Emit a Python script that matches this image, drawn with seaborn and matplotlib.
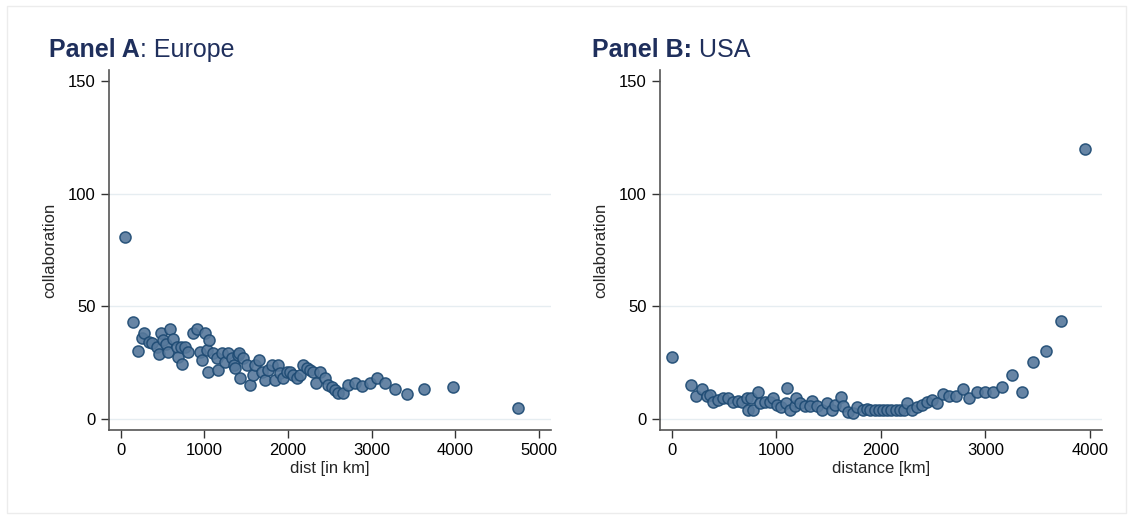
import matplotlib
matplotlib.use("Agg")
import matplotlib.pyplot as plt
from matplotlib.patches import Rectangle
import seaborn as sns

# Panel A: Europe (distance in km, collaboration)
eu_dist = [51, 147, 207, 255, 278, 338, 374, 434, 458, 482, 505, 541, 565, 589,
           625, 673, 685, 733, 721, 768, 804, 864, 912, 948, 972, 1007, 1031,
           1055, 1043, 1103, 1151, 1163, 1211, 1247, 1282, 1330, 1354, 1402,
           1426, 1414, 1462, 1366, 1509, 1545, 1581, 1605, 1653, 1689, 1724,
           1760, 1808, 1844, 1880, 1904, 1940, 1988, 2024, 2060, 2108, 2144,
           2180, 2228, 2264, 2300, 2334, 2382, 2441, 2477, 2525, 2561, 2597,
           2657, 2717, 2800, 2884, 2980, 3063, 3159, 3278, 3421, 3624, 3971,
           4748]
eu_collab = [80.8, 43.1, 30.2, 36.0, 38.2, 34.2, 33.7, 32.0, 28.9, 38.2, 35.1,
             33.3, 29.7, 40.0, 35.5, 32.0, 27.5, 24.4, 32.0, 32.0, 29.7, 38.2,
             40.0, 29.7, 26.2, 38.2, 30.6, 35.1, 20.9, 29.3, 27.1, 21.7, 29.3,
             25.3, 29.3, 27.1, 24.0, 28.4, 18.2, 29.3, 27.1, 22.6, 24.0, 15.1,
             19.5, 24.0, 26.2, 20.9, 17.3, 21.7, 24.0, 17.3, 24.0, 20.4, 18.2,
             20.9, 20.9, 19.5, 18.2, 19.5, 24.0, 22.6, 21.7, 20.9, 16.0, 20.9,
             18.2, 15.1, 14.2, 12.9, 11.5, 11.5, 15.1, 16.0, 14.6, 16.0, 18.2,
             16.0, 13.3, 11.1, 13.3, 14.2, 4.9]

# Panel B: USA
us_dist = [0, 180, 230, 290, 335, 365, 395, 440, 490, 540, 585, 630, 670, 720,
           730, 755, 775, 825, 845, 890, 940, 970, 1010, 1040, 1100, 1090,
           1130, 1180, 1190, 1225, 1275, 1340, 1320, 1390, 1440, 1480, 1530,
           1560, 1615, 1640, 1685, 1730, 1770, 1830, 1870, 1900, 1940, 1980,
           2020, 2060, 2100, 2140, 2180, 2220, 2250, 2300, 2345, 2390, 2440,
           2490, 2535, 2595, 2650, 2720, 2785, 2840, 2920, 2995, 3070, 3160,
           3255, 3350, 3455, 3580, 3720, 3950]
us_collab = [27.5, 15, 10, 13, 10, 10.5, 7.5, 8.5, 9, 9, 7.5, 8, 7.5, 9, 4, 9,
             4, 12, 7, 7.5, 7.5, 9, 6, 5, 13.5, 7, 4, 5.5, 9, 7, 5.5, 8, 5.5,
             5.5, 4, 7, 4, 6, 9.5, 5.5, 3, 2.5, 5, 4, 4.5, 4, 4, 4, 4, 4, 4, 4,
             4, 4, 7, 4, 5.3, 6.2, 7.5, 8.4, 7, 11, 10, 10, 13, 9, 12, 12, 12,
             14, 19.5, 12, 25, 30, 43.5, 120]

y_ticks = [0, 50, 100, 150]

sns.set_style("white")
plt.rcParams["font.family"] = ["Liberation Sans", "DejaVu Sans"]

fig = plt.figure(figsize=(11.33, 5.16), dpi=100)
fig.patches.append(Rectangle((0.006, 0.006), 0.988, 0.982, transform=fig.transFigure,
                             fill=False, edgecolor="#ececec", linewidth=1))

ax_a = fig.add_axes([0.0962, 0.1667, 0.390, 0.6977])
ax_b = fig.add_axes([0.5825, 0.1667, 0.390, 0.6977])

title_col = "#1f2f5c"
panels = [
    (ax_a, eu_dist, eu_collab, "dist [in km]", (-140, 5140), [0, 1000, 2000, 3000, 4000, 5000],
     "Panel A", ": Europe", -0.136),
    (ax_b, us_dist, us_collab, "distance [km]", (-115, 4115), [0, 1000, 2000, 3000, 4000],
     "Panel B:", " USA", -0.154),
]

for ax, xs, ys, xlab, xlim, xticks, bold_part, rest, tx in panels:
    sns.scatterplot(x=xs, y=ys, ax=ax, s=64, color="#56789b", edgecolor="#1d4a73",
                    linewidth=1.1, alpha=0.9, zorder=3)
    ax.set_xlim(*xlim)
    ax.set_ylim(-5, 155)
    ax.set_xticks(xticks)
    ax.set_yticks(y_ticks)
    ax.tick_params(axis="both", direction="out", length=6, width=1, color="#333333",
                   labelsize=12, labelcolor="black", left=True, bottom=True)
    ax.set_xlabel(xlab, fontsize=12, labelpad=2)
    ax.set_ylabel("collaboration", fontsize=12, labelpad=8)
    ax.grid(axis="y", color="#e6edf1", linewidth=1)
    ax.get_ygridlines()[-1].set_visible(False)
    ax.set_axisbelow(True)
    for side in ["top", "right"]:
        ax.spines[side].set_visible(False)
    for side in ["left", "bottom"]:
        ax.spines[side].set_color("#555555")
        ax.spines[side].set_linewidth(1.2)
    t = ax.text(tx, 1.035, bold_part, transform=ax.transAxes, fontsize=18,
                fontweight="bold", color=title_col, ha="left", va="baseline")
    fig.canvas.draw()
    bb = t.get_window_extent().transformed(ax.transAxes.inverted())
    ax.text(bb.x1, 1.035, rest, transform=ax.transAxes, fontsize=18,
            color=title_col, ha="left", va="baseline")

fig.savefig("out.png", dpi=100)
